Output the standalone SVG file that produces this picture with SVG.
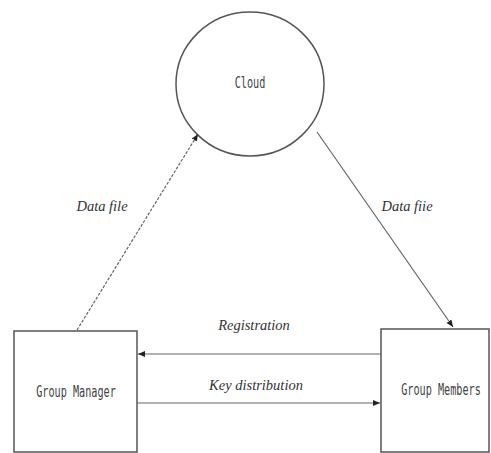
<svg xmlns="http://www.w3.org/2000/svg" width="491" height="453" viewBox="0 0 491 453">
<defs>
<style>
.node{fill:#fff;stroke:#555;stroke-width:1.5}
.nlabel{font-family:"DejaVu Sans Mono","Liberation Mono",monospace;font-size:15px;fill:#444;text-anchor:middle}
.elabel{font-family:"Liberation Serif",serif;font-style:italic;font-size:14.5px;fill:#333;text-anchor:middle}
.edge{stroke:#666;stroke-width:1.2;fill:none}
</style>
<marker id="arr" markerWidth="8" markerHeight="8" refX="7" refY="4" orient="auto" markerUnits="userSpaceOnUse">
<path d="M0,1 L7,4 L0,7 Z" fill="#222"/>
</marker>
</defs>
<rect width="491" height="453" fill="#fff"/>
<g id="cloud">
<ellipse class="node" cx="250" cy="84" rx="74" ry="72"/>
<text class="nlabel" transform="translate(250,88) scale(0.68,1)">Cloud</text>
</g>
<g id="group-manager">
<rect class="node" x="14" y="331" width="123" height="121"/>
<text class="nlabel" transform="translate(76,397) scale(0.68,1)">Group Manager</text>
</g>
<g id="group-members">
<rect class="node" x="381" y="329" width="108" height="123"/>
<text class="nlabel" transform="translate(441,395) scale(0.68,1)">Group Members</text>
</g>
<g id="connectors">
<line class="edge" x1="77" y1="330" x2="198" y2="134" stroke-dasharray="3,1.5" marker-end="url(#arr)"/>
<line class="edge" x1="317" y1="132" x2="453" y2="327" marker-end="url(#arr)"/>
<line class="edge" x1="381" y1="354" x2="138" y2="354" marker-end="url(#arr)"/>
<line class="edge" x1="137" y1="403" x2="380" y2="403" marker-end="url(#arr)"/>
<text class="elabel" x="102" y="211">Data file</text>
<text class="elabel" x="407" y="211">Data fiie</text>
<text class="elabel" x="254" y="330">Registration</text>
<text class="elabel" x="256" y="390">Key distribution</text>
</g>
</svg>
